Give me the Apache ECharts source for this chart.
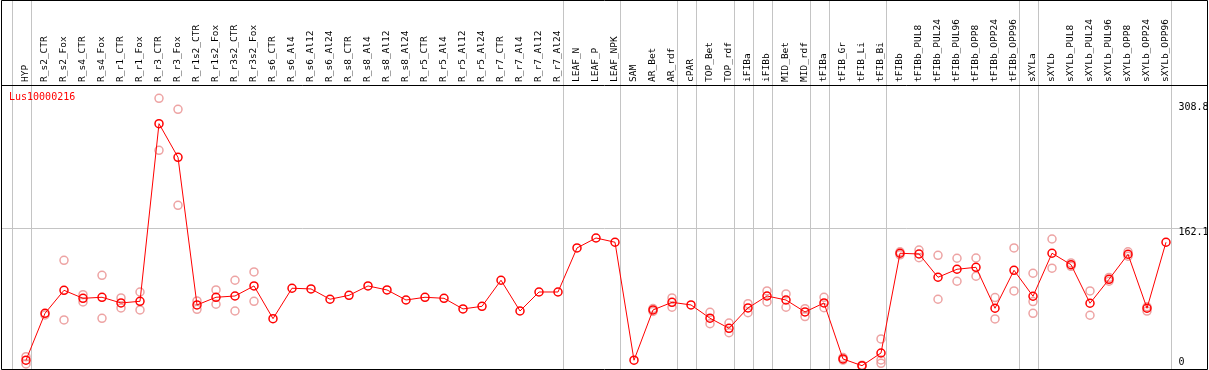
<!DOCTYPE html>
<html>
<head>
<meta charset="utf-8">
<script src="https://cdn.jsdelivr.net/npm/echarts@6/dist/echarts.min.js"></script>
<style>
html,body{margin:0;padding:0;background:#fff;}
#chart{width:1209px;height:370px;}
</style>
</head>
<body>
<div id="chart"></div>
<script>
const seriesName = 'Lus10000216';
const categories = ['HYP','R_s2_CTR','R_s2_Fox','R_s4_CTR','R_s4_Fox','R_r1_CTR','R_r1_Fox','R_r3_CTR','R_r3_Fox','R_r1s2_CTR','R_r1s2_Fox','R_r3s2_CTR','R_r3s2_Fox','R_s6_CTR','R_s6_Al4','R_s6_Al12','R_s6_Al24','R_s8_CTR','R_s8_Al4','R_s8_Al12','R_s8_Al24','R_r5_CTR','R_r5_Al4','R_r5_Al12','R_r5_Al24','R_r7_CTR','R_r7_Al4','R_r7_Al12','R_r7_Al24','LEAF_N','LEAF_P','LEAF_NPK','SAM','AR_Bet','AR_rdf','cPAR','TOP_Bet','TOP_rdf','iFIBa','iFIBb','MID_Bet','MID_rdf','tFIBa','tFIB_Gr','tFIB_Li','tFIB_Bi','tFIBb','tFIBb_PUL8','tFIBb_PUL24','tFIBb_PUL96','tFIBb_OPP8','tFIBb_OPP24','tFIBb_OPP96','sXYLa','sXYLb','sXYLb_PUL8','sXYLb_PUL24','sXYLb_PUL96','sXYLb_OPP8','sXYLb_OPP24','sXYLb_OPP96'];
const meanValues = [7.3,62.4,89.4,80,81.2,74.5,76.5,285,245.5,72.2,81.2,82.7,94.5,56.1,91.8,91.0,78.9,83.5,94.5,89.8,78.0,81.2,80.0,67.5,70.6,101.2,65.1,87.4,87.4,139.1,150.8,145.8,7.3,66.3,75.3,72.2,56.6,44.8,68.7,82.7,78,64,74.5,8.8,0.9,15.8,132.9,132,104.7,114.1,116.4,68.3,112.9,82.4,132.9,119.5,74.2,102.3,131.7,68.3,145.8];
const replicateA = [11.5,60.5,124.6,84.3,107,80.4,87.4,314.8,301.9,76.9,89.8,101.2,110.9,null,null,null,null,null,null,null,null,null,null,null,null,null,null,null,null,null,null,null,null,68,80.4,null,63.6,51,73.7,88.6,85.1,67.8,81.2,10.5,1.5,32.3,134.5,136.7,130.5,127,127.3,80.8,139.1,109.4,149.6,121.5,88.6,104.5,134.5,70,null];
const replicateB = [2.9,null,54.6,75.7,56.5,68.7,66.3,253.7,189.2,67.1,73,65.1,76.5,null,null,null,null,null,null,null,null,null,null,null,null,null,null,null,null,null,null,null,null,64.5,69.5,null,50.2,39.7,63.1,75.7,69.5,58.5,69,7.5,0.5,7.6,131,127.7,78.9,100,105.9,55.8,88.6,76.1,115.3,117.5,60.1,100,129.5,65,null];
const replicateC = [null,null,null,null,null,null,null,null,null,null,null,null,null,null,null,null,null,null,null,null,null,null,null,null,null,null,null,null,null,null,null,null,null,null,null,null,null,null,null,null,null,null,null,null,null,3.7,null,null,null,null,null,null,null,62.4,null,null,null,null,null,null,null];
// index of the last category in each group (group separators)
const groupEnds = [-1,0,28,31,34,35,37,38,39,41,42,45,52,53,60];
const yTickValues = [308.8,162.1,0];
const yRefLines = [162.1];
const yMin = -3.0, yMax = 330.4;

function pairs(arr){ const out=[]; arr.forEach((v,i)=>{ if(v!==null) out.push([i,v]); }); return out; }

const MONO = "'DejaVu Sans Mono', 'Liberation Mono', monospace";
const chart = echarts.init(document.getElementById('chart'), null, {renderer:'canvas'});
const repStyle = {color:'rgba(0,0,0,0)', borderColor:'#e88c8c', borderWidth:1.5};
function repSeries(arr){
  return {type:'scatter', data:pairs(arr), symbol:'circle', symbolSize:8, itemStyle:repStyle, z:2, silent:true};
}
const option = {
  animation:false,
  backgroundColor:'#fff',
  title:{text:seriesName, left:9, top:92, padding:0, textStyle:{fontSize:10, fontFamily:MONO, fontWeight:'normal', color:'#ff0000'}},
  grid:{left:16.5, right:33.5, top:85, bottom:1, containLabel:false},
  xAxis:{type:'category', data:categories, position:'top', boundaryGap:true,
    axisLine:{show:false}, axisTick:{show:false}, splitLine:{show:false},
    axisLabel:{rotate:90, interval:0, margin:3, fontSize:9.5, fontFamily:MONO, color:'#000'}},
  yAxis:{type:'value', min:yMin, max:yMax, show:false},
  graphic:[
    {type:'rect', shape:{x:1.5, y:0.5, width:1206, height:369}, style:{fill:'none', stroke:'#000', lineWidth:1}, z:100},
    {type:'line', shape:{x1:1, y1:85.5, x2:1208, y2:85.5}, style:{stroke:'#000', lineWidth:1}, z:100}
  ],
  series:[
    {type:'custom', data:groupEnds.map(k=>[k,0]), z:1, silent:true, clip:false,
      renderItem:function(params, api){
        const bw = api.size([1,0])[0];
        const x0 = api.coord([0,0])[0];
        const x = Math.round(x0 + api.value(0)*bw + 4.5) + 0.5;
        return {type:'line', shape:{x1:x, y1:0, x2:x, y2:370}, style:{stroke:'#c4c4c4', lineWidth:1}};
      }},
    {type:'custom', data:yRefLines.map(v=>[0,v]), z:1, silent:true, clip:false,
      renderItem:function(params, api){
        const y = Math.round(api.coord([0, api.value(1)])[1]) + 0.5;
        return {type:'line', shape:{x1:1, y1:y, x2:1208, y2:y}, style:{stroke:'#c4c4c4', lineWidth:1}};
      }},
    repSeries(replicateA), repSeries(replicateB), repSeries(replicateC),
    {type:'line', name:seriesName, data:meanValues, symbol:'circle', symbolSize:8, showAllSymbol:true,
      itemStyle:{color:'rgba(0,0,0,0)', borderColor:'#ff0000', borderWidth:1.5},
      lineStyle:{color:'#ff0000', width:1}, z:3, silent:true},
    {type:'custom', data:yTickValues.map(v=>[0,v]), z:5, silent:true, clip:false,
      renderItem:function(params, api){
        const bw = api.size([1,0])[0];
        const xr = api.coord([categories.length-1,0])[0] + bw/2 + 3;
        const y = Math.min(api.coord([0, api.value(1)])[1] - 1, 357);
        return {type:'text', style:{text:String(api.value(1)), x:xr, y:y, fill:'#000', font:'10px '+MONO, verticalAlign:'top', align:'left'}};
      }}
  ]
};
chart.setOption(option);
</script>
</body>
</html>
